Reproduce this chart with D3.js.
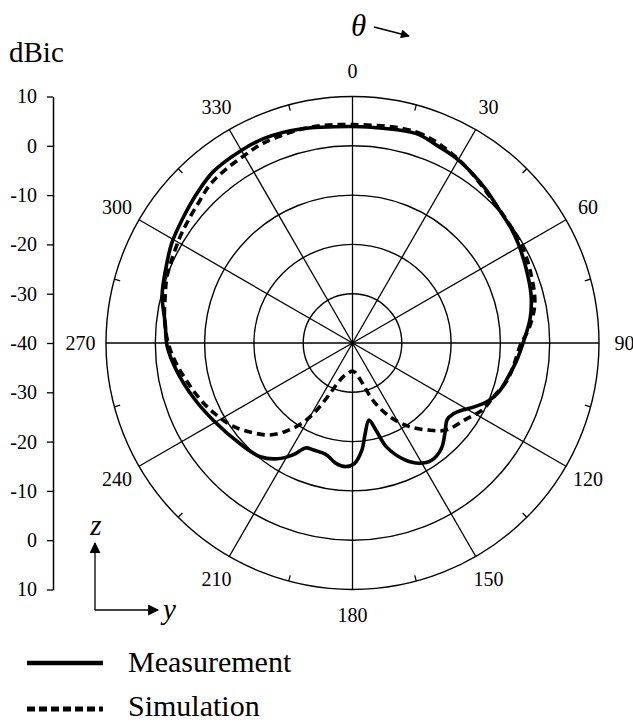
<!DOCTYPE html>
<html>
<head>
<meta charset="utf-8">
<script src="https://cdn.jsdelivr.net/npm/d3@7"></script>
<style>
  body { margin: 0; background: #fff; }
</style>
</head>
<body>
<svg id="chart" width="633" height="722"></svg>
<script>
// measured pattern (theta in degrees, gain in dBic)
var measAngle = [0, 8, 17, 23, 30, 40, 47, 54, 59, 67, 75, 82, 89, 96, 103, 108, 113, 117, 121, 125,
                 129, 134, 140, 146, 151, 156, 162, 165, 168, 172, 175, 179, 183, 188, 193, 200,
                 204, 208, 213, 219, 228, 241, 251, 261, 269, 276, 284, 292, 299, 307, 314, 321,
                 330, 337, 346];
var measGain  = [3.9, 4.0, 4.4, 3.6, 2.9, 1.4, 0.3, -0.3, -0.8, -1.7, -2.5, -3.6, -5.2, -6.5, -7.8, -8.6, -10.0, -11.8, -13.7, -15.0,
                 -15.3, -13.9, -12.0, -11.3, -12.1, -14.1, -17.9, -21.8, -24.0, -21.5, -18.2, -15.6, -14.9, -15.4, -16.7, -16.9,
                 -16.7, -14.3, -12.0, -10.3, -9.4, -7.7, -5.9, -3.9, -2.4, -1.8, -0.2, 0.8, 1.9, 2.8, 3.8, 4.8,
                 5.1, 5.2, 4.7];

// simulated pattern
var simAngle = [0, 17, 30, 45, 60, 70, 78, 85, 91, 98, 104, 111, 117, 124, 133, 139, 146, 153, 160, 168,
                175, 181, 188, 195, 200, 204, 208, 212, 217, 222, 228, 235, 242, 250, 263, 270, 277,
                285, 290, 301, 306, 312, 318, 324, 330, 336, 348];
var simGain  = [4.3, 4.7, 3.0, 0.5, -0.4, -1.3, -2.2, -4.0, -6.0, -7.0, -7.8, -9.4, -10.3, -12.3, -14.1, -16.6, -19.6, -23.2, -27.4, -32.4,
                -34.0, -34.3, -33.8, -33.0, -31.5, -28.8, -24.6, -20.9, -17.6, -14.9, -12.8, -10.5, -8.8, -7.0, -4.1, -2.6, -1.6,
                -0.7, 0.0, 1.0, 1.5, 2.2, 3.2, 3.6, 3.9, 4.4, 4.6];

var angleTicks = [0, 30, 60, 90, 120, 150, 180, 210, 240, 270, 300, 330];
var minorTicks = [15, 45, 75, 105, 135, 165, 195, 225, 255, 285, 315, 345];
var rings = [-30, -20, -10, 0, 10];
var axisLabels = [10, 0, -10, -20, -30, -40, -30, -20, -10, 0, 10];
var legendNames = ["Measurement", "Simulation"];

var FONT = "'Liberation Serif'";
var svg = d3.select("#chart");
var cx = 352.5, cy = 343, R = 246.5;
var rad = d => d * Math.PI / 180;

var scR = d3.scaleLinear().domain([-40, 10]).range([0, R]);

// arrowheads
var defs = svg.append("defs");
defs.append("marker").attr("id", "arr")
    .attr("viewBox", "0 0 10 10").attr("refX", 9).attr("refY", 5)
    .attr("markerWidth", 11).attr("markerHeight", 9)
    .attr("markerUnits", "userSpaceOnUse").attr("orient", "auto")
    .append("path").attr("d", "M0,0 L10,5 L0,10 Z").attr("fill", "black");
defs.append("marker").attr("id", "arrBig")
    .attr("viewBox", "0 0 10 10").attr("refX", 9).attr("refY", 5)
    .attr("markerWidth", 15).attr("markerHeight", 11)
    .attr("markerUnits", "userSpaceOnUse").attr("orient", "auto")
    .append("path").attr("d", "M0,0 L10,5 L0,10 Z").attr("fill", "black");

var g = svg.append("g").attr("transform", "translate(" + cx + "," + cy + ")");

// grid rings
g.append("g").selectAll("circle").data(rings).enter().append("circle")
    .attr("r", scR).attr("fill", "none").attr("stroke", "black").attr("stroke-width", 1.4);

// spokes
g.append("g").selectAll("line").data(angleTicks).enter().append("line")
    .attr("x1", 0).attr("y1", 0)
    .attr("x2", d => R * Math.sin(rad(d))).attr("y2", d => -R * Math.cos(rad(d)))
    .attr("stroke", "black").attr("stroke-width", 1.3);

// minor ticks on outer ring
g.append("g").selectAll("line").data(minorTicks).enter().append("line")
    .attr("x1", d => R * Math.sin(rad(d))).attr("y1", d => -R * Math.cos(rad(d)))
    .attr("x2", d => (R - 6) * Math.sin(rad(d))).attr("y2", d => -(R - 6) * Math.cos(rad(d)))
    .attr("stroke", "black").attr("stroke-width", 1.3);

// angle labels
g.append("g").selectAll("text").data(angleTicks).enter().append("text")
    .attr("x", d => 272 * Math.sin(rad(d))).attr("y", d => -272 * Math.cos(rad(d)) + 7)
    .attr("text-anchor", "middle").style("font-family", FONT)
    .style("font-size", "20px").text(d => d);

// pattern curves
var line = d3.lineRadial().curve(d3.curveCatmullRomClosed.alpha(0.5))
    .angle(d => rad(d[0])).radius(d => scR(d[1]));

g.append("path").datum(d3.zip(simAngle, simGain))
    .attr("d", line).attr("fill", "none").attr("stroke", "black")
    .attr("stroke-width", 3.6).attr("stroke-dasharray", "8,5");
g.append("path").datum(d3.zip(measAngle, measGain))
    .attr("d", line).attr("fill", "none").attr("stroke", "black")
    .attr("stroke-width", 3.6).attr("stroke-linejoin", "round");

// left dBic axis
var scY = d3.scalePoint().domain(d3.range(axisLabels.length)).range([cy - R, cy + R]);
var ax = svg.append("g").attr("transform", "translate(53,0)")
    .call(d3.axisLeft(scY).tickSize(6).tickSizeOuter(0).tickPadding(10)
          .tickFormat(i => axisLabels[i]));
ax.select(".domain").attr("stroke-width", 1.5);
ax.selectAll(".tick line").attr("stroke-width", 1.3);
ax.selectAll("text").attr("fill", "black")
    .style("font-family", FONT).style("font-size", "20px");

svg.append("text").attr("x", 9).attr("y", 62).style("font-family", FONT)
    .style("font-size", "29px").text("dBic");

// theta arrow
svg.append("text").attr("x", 351).attr("y", 36).style("font-family", FONT)
    .style("font-size", "31px").style("font-style", "italic").text("θ");
svg.append("line").attr("x1", 374).attr("y1", 27).attr("x2", 409).attr("y2", 36)
    .attr("stroke", "black").attr("stroke-width", 1.3).attr("marker-end", "url(#arr)");

// z / y coordinate arrows
svg.append("line").attr("x1", 95).attr("y1", 610).attr("x2", 95).attr("y2", 543)
    .attr("stroke", "black").attr("stroke-width", 1.3).attr("marker-end", "url(#arrBig)");
svg.append("line").attr("x1", 95).attr("y1", 610).attr("x2", 158).attr("y2", 610)
    .attr("stroke", "black").attr("stroke-width", 1.3).attr("marker-end", "url(#arrBig)");
svg.append("text").attr("x", 96).attr("y", 535).attr("text-anchor", "middle")
    .style("font-family", FONT).style("font-size", "29px").style("font-style", "italic").text("z");
svg.append("text").attr("x", 163).attr("y", 619)
    .style("font-family", FONT).style("font-size", "29px").style("font-style", "italic").text("y");

// legend
var leg = svg.append("g").selectAll("g").data(legendNames).enter().append("g")
    .attr("transform", (d, i) => "translate(0," + (663 + i * 46) + ")");
leg.append("line").attr("x1", 27).attr("x2", 103).attr("y1", 0).attr("y2", 0)
    .attr("stroke", "black").attr("stroke-width", (d, i) => i ? 5 : 4.5)
    .attr("stroke-dasharray", (d, i) => i ? "8,4" : null);
leg.append("text").attr("x", 128).attr("y", (d, i) => i ? 7 : 9)
    .style("font-family", FONT).style("font-size", "30px").text(d => d);
</script>
</body>
</html>
